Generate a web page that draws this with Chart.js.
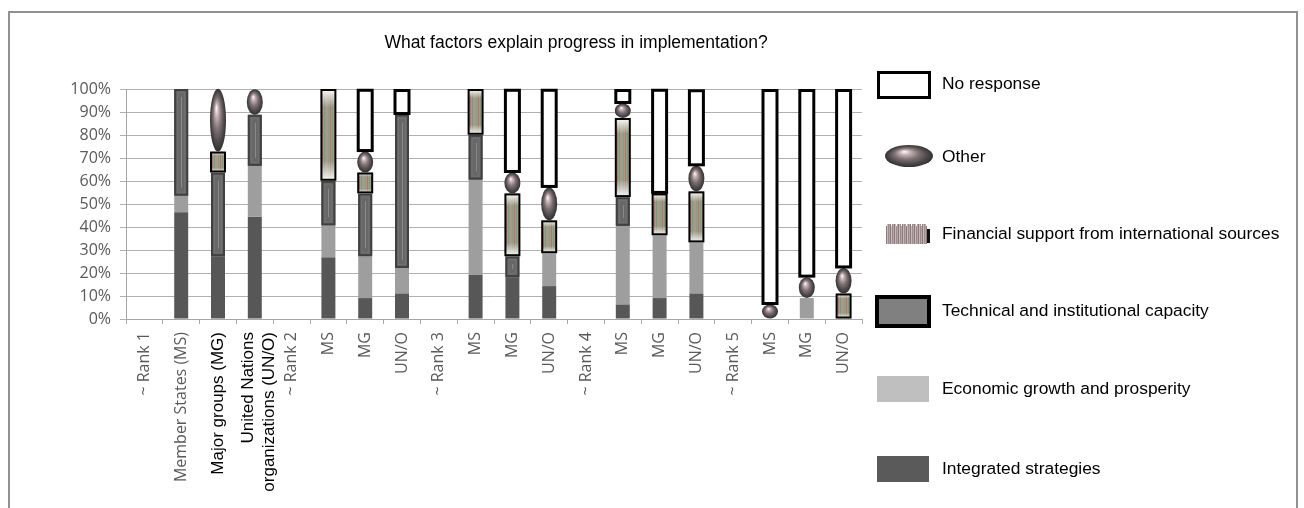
<!DOCTYPE html>
<html>
<head>
<meta charset="utf-8">
<script src="https://cdn.jsdelivr.net/npm/chart.js@4/dist/chart.umd.min.js"></script>
<style>
  html, body { margin: 0; padding: 0; background: #fff; }
  #wrap { position: relative; width: 1304px; height: 508px; overflow: hidden; }
  #frame { position: absolute; left: 8px; top: 11px; width: 1286px; height: 540px;
           border: 2px solid #919191; border-bottom: none; }
  canvas { position: absolute; left: 0; top: 0; }
</style>
</head>
<body>
<div id="wrap">
  <div id="frame"></div>
  <canvas id="chart" width="1304" height="508"></canvas>
</div>
<script>
// Respondent groups per rank (share of responses, %)
const categories = [
  '~ Rank 1', 'Member States (MS)', 'Major groups (MG)', ['United Nations', 'organizations (UN/O)'],
  '~ Rank 2', 'MS', 'MG', 'UN/O',
  '~ Rank 3', 'MS', 'MG', 'UN/O',
  '~ Rank 4', 'MS', 'MG', 'UN/O',
  '~ Rank 5', 'MS', 'MG', 'UN/O'
];

const integratedStrategies = [null, 46.4, 27.3, 44.4,  null, 26.8, 9.1, 11.1,  null, 19.3, 18.2, 14.3,  null, 6.3, 9.1, 11.1,  null, null, null, null];
const economicGrowth       = [null, 7.2, null, 22.2,   null, 13.9, 18.2, 11.1, null, 41.3, null, 14.3,  null, 34.2, 27.3, 22.2, null, null, 9.1, null];
const technicalCapacity    = [null, 46.4, 36.4, 22.2,  null, 19.4, 27.3, 66.7, null, 19.5, 9.1, null,   null, 12.5, null, null, null, null, null, null];
const financialSupport     = [null, null, 9.1, null,   null, 39.9, 9.1, null,  null, 19.9, 27.3, 14.3,  null, 34.4, 18.2, 22.2, null, null, null, 11.1];
const otherFactors         = [null, null, 27.3, 11.1,  null, null, 9.1, null,  null, null, 9.1, 14.3,   null, 6.3, null, 11.1,  null, 6.3, 9.1, 11.1];
const noResponse           = [null, null, null, null,  null, null, 27.3, 11.1, null, null, 36.4, 42.9,  null, 6.3, 45.5, 33.3, null, 93.7, 81.8, 77.8];

const yTicks = [0, 10, 20, 30, 40, 50, 60, 70, 80, 90, 100];

const seriesNames = [
  'Integrated strategies',
  'Economic growth and prosperity',
  'Technical and institutional capacity',
  'Financial support from international sources',
  'Other',
  'No response'
];

const titleText = 'What factors explain progress in implementation?';

// ---------- segment painters ----------
function paintTechnical(ctx, l, t, w, h) {
  ctx.fillStyle = '#676767';
  ctx.fillRect(l, t, w, h);
  ctx.lineWidth = 2;
  ctx.strokeStyle = '#404040';
  ctx.strokeRect(l + 1, t + 1, w - 2, h - 2);
  if (h > 10) {
    ctx.lineWidth = 1;
    ctx.strokeStyle = '#727272';
    ctx.strokeRect(l + 3.5, t + 3.5, w - 7, h - 7);
    ctx.strokeStyle = '#8a8a8a';
    const cx = Math.round(l + w / 2) + 0.5;
    ctx.beginPath();
    ctx.moveTo(cx, t + 8);
    ctx.lineTo(cx, t + h - 8);
    ctx.stroke();
  }
}

function paintFinancial(ctx, l, t, w, h) {
  ctx.fillStyle = '#9c978a';
  ctx.fillRect(l, t, w, h);
  const stripe = ['#b46a5c', '#6c9a6a', '#a7927f', '#7f9a76'];
  let k = 0;
  for (let x = Math.round(l) + 1; x < l + w - 1; x += 2) {
    ctx.fillStyle = stripe[k++ % stripe.length];
    ctx.fillRect(x, t, 1, h);
  }
  const g = ctx.createLinearGradient(0, t, 0, t + h);
  g.addColorStop(0, 'rgba(255,255,255,1)');
  g.addColorStop(0.2, 'rgba(255,255,255,0.05)');
  g.addColorStop(0.78, 'rgba(255,255,255,0.05)');
  g.addColorStop(1, 'rgba(255,255,255,0.95)');
  ctx.fillStyle = g;
  ctx.fillRect(l, t, w, h);
  ctx.lineWidth = 2;
  ctx.strokeStyle = '#000';
  ctx.strokeRect(l, t + 1, w, h - 2);
}

function paintSphere(ctx, cx, cy, rx, ry) {
  ctx.save();
  ctx.translate(cx, cy);
  ctx.scale(rx, ry);
  const g = ctx.createRadialGradient(-0.2, -0.4, 0.02, 0, 0, 1);
  g.addColorStop(0, '#fbf6f7');
  g.addColorStop(0.2, '#c8b3b7');
  g.addColorStop(0.5, '#7c7173');
  g.addColorStop(0.82, '#4a4446');
  g.addColorStop(1, '#343132');
  ctx.fillStyle = g;
  ctx.beginPath();
  ctx.arc(0, 0, 1, 0, Math.PI * 2);
  ctx.fill();
  ctx.restore();
}

function paintOther(ctx, l, t, w, h) {
  paintSphere(ctx, l + w / 2, t + h / 2, w / 2 + 1, h / 2);
}

function paintNoResponse(ctx, l, t, w, h) {
  ctx.fillStyle = '#fff';
  ctx.fillRect(l, t, w, h);
  ctx.lineWidth = 3;
  ctx.strokeStyle = '#000';
  ctx.strokeRect(l, t + 1.5, w, h - 2.5);
}

const painters = {
  technical: paintTechnical,
  financial: paintFinancial,
  other: paintOther,
  none: paintNoResponse
};

// Draws the textured segments from each bar element's own geometry
const texturedBars = {
  id: 'texturedBars',
  beforeDatasetDraw(chart, args) {
    const kind = chart.data.datasets[args.index].kind;
    if (painters[kind]) return false;
  },
  afterDatasetsDraw(chart) {
    const ctx = chart.ctx;
    chart.data.datasets.forEach((ds, di) => {
      const paint = painters[ds.kind];
      if (!paint) return;
      const meta = chart.getDatasetMeta(di);
      meta.data.forEach((bar, i) => {
        const v = ds.data[i];
        if (v == null || v === 0) return;
        const p = bar.getProps(['x', 'y', 'base', 'width'], true);
        const top = Math.min(p.y, p.base);
        const h = Math.abs(p.base - p.y);
        ctx.save();
        paint(ctx, p.x - p.width / 2, top, p.width, h);
        ctx.restore();
      });
    });
  }
};

// Nudge two-line category labels so the pair sits around its tick
const centreMultiline = {
  id: 'centreMultiline',
  beforeDraw(chart) {
    const items = chart.scales.x.getLabelItems();
    items.forEach((item) => {
      if (Array.isArray(item.label) && item.label.length > 1 && !item._nudged) {
        item.textOffset -= 6;
        item._nudged = true;
      }
    });
  }
};

// Title and the side legend
const decorations = {
  id: 'decorations',
  afterDraw(chart) {
    const ctx = chart.ctx;
    ctx.save();
    ctx.fillStyle = '#000';
    ctx.font = '17.5px "Liberation Sans", Arial, sans-serif';
    ctx.textAlign = 'center';
    ctx.textBaseline = 'middle';
    ctx.fillText(titleText, 576, 43);

    const rows = [84, 157, 234, 311, 389, 469];
    const order = [5, 4, 3, 2, 1, 0];
    const textX = 942;
    ctx.textAlign = 'left';
    ctx.font = '17.4px "Liberation Sans", Arial, sans-serif';
    order.forEach((si, r) => {
      const cy = rows[r];
      const kind = chart.data.datasets[si].kind;
      if (kind === 'none') {
        ctx.fillStyle = '#fff';
        ctx.fillRect(878, cy - 12, 52, 25);
        ctx.lineWidth = 3;
        ctx.strokeStyle = '#000';
        ctx.strokeRect(878.5, cy - 11.5, 51, 25);
      } else if (kind === 'other') {
        paintSphere(ctx, 909, cy - 1, 24, 11);
      } else if (kind === 'financial') {
        const cols = ['#8a7a7c', '#c9b9bb', '#9c8c8e', '#b7a5a7'];
        for (let x = 886, k = 0; x < 927; x++, k++) {
          ctx.fillStyle = cols[k % cols.length];
          const wob = (k % 5 === 0) ? 2 : 0;
          ctx.fillRect(x, cy - 10 + wob, 1, 20 - wob);
        }
        ctx.fillStyle = '#111';
        ctx.fillRect(927, cy - 5, 3, 14);
      } else if (kind === 'technical') {
        ctx.fillStyle = '#808080';
        ctx.fillRect(877, cy - 14, 52, 29);
        ctx.lineWidth = 4;
        ctx.strokeStyle = '#000';
        ctx.strokeRect(877, cy - 14, 52, 29);
      } else {
        ctx.fillStyle = chart.data.datasets[si].legendColor;
        ctx.fillRect(877, cy - 13, 52, 26);
      }
      ctx.fillStyle = '#000';
      ctx.fillText(seriesNames[si], textX, cy);
    });
    ctx.restore();
  }
};

const blackLabels = new Set([2, 3]);

new Chart(document.getElementById('chart'), {
  type: 'bar',
  data: {
    labels: categories,
    datasets: [
      { label: seriesNames[0], data: integratedStrategies, kind: 'plain', backgroundColor: '#575757', legendColor: '#5a5a5a' },
      { label: seriesNames[1], data: economicGrowth, kind: 'plain', backgroundColor: '#9e9e9e', legendColor: '#bfbfbf' },
      { label: seriesNames[2], data: technicalCapacity, kind: 'technical', backgroundColor: '#676767' },
      { label: seriesNames[3], data: financialSupport, kind: 'financial', backgroundColor: '#9c978a' },
      { label: seriesNames[4], data: otherFactors, kind: 'other', backgroundColor: '#7c7173' },
      { label: seriesNames[5], data: noResponse, kind: 'none', backgroundColor: '#ffffff' }
    ]
  },
  options: {
    responsive: false,
    animation: false,
    devicePixelRatio: 1,
    layout: { padding: { left: 0, right: 442, top: 89, bottom: 0 } },
    datasets: { bar: { barPercentage: 0.38, categoryPercentage: 1, borderWidth: 0 } },
    plugins: { legend: { display: false }, title: { display: false }, tooltip: { enabled: false } },
    scales: {
      x: {
        stacked: true,
        grid: { offset: true, drawOnChartArea: false, tickLength: 5, color: '#a6a6a6' },
        border: { display: true, color: '#a6a6a6' },
        ticks: {
          autoSkip: false, maxRotation: 90, minRotation: 90, padding: 8,
          font: (c) => blackLabels.has(c.index)
            ? { family: '"Liberation Sans", Arial, sans-serif', size: 17 }
            : { family: '"Open Sans", sans-serif', size: 16 },
          color: (c) => blackLabels.has(c.index) ? '#000000' : '#595959'
        },
        afterFit: (s) => { s.height = 189; }
      },
      y: {
        stacked: true, min: 0, max: 100,
        afterBuildTicks: (s) => { s.ticks = yTicks.map(v => ({ value: v })); },
        ticks: { callback: (v) => v + '%', padding: 9, color: '#595959',
                 font: { family: '"Open Sans", sans-serif', size: 16 } },
        grid: { color: '#b0b0b0', tickLength: 6 },
        border: { display: true, color: '#a6a6a6' },
        afterFit: (s) => { s.width = 126; }
      }
    }
  },
  plugins: [texturedBars, centreMultiline, decorations]
});
</script>
</body>
</html>
